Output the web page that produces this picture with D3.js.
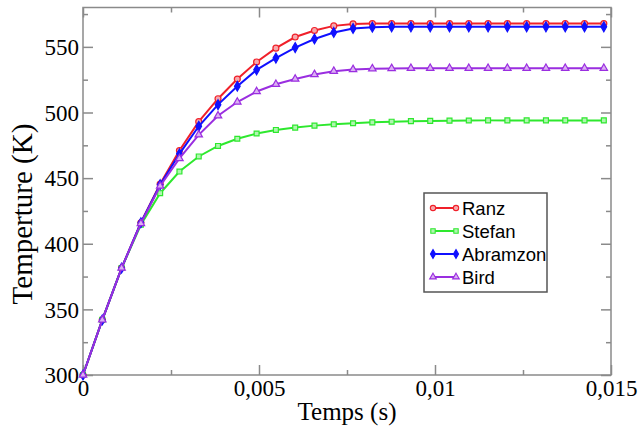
<!DOCTYPE html>
<html><head><meta charset="utf-8">
<script src="https://cdn.jsdelivr.net/npm/d3@7"></script>
<style>body{margin:0;background:#fff}svg{display:block}</style>
</head><body><svg id="c" width="639" height="432"></svg>
<script>
const times = [0, 0.000548, 0.001096, 0.001644, 0.002192, 0.00274, 0.003288, 0.003836, 0.004384, 0.004932, 0.00548, 0.006028, 0.006576, 0.007124, 0.007672, 0.00822, 0.008768, 0.009316, 0.009864, 0.010412, 0.01096, 0.011508, 0.012056, 0.012604, 0.013152, 0.0137, 0.014248, 0.014796];
const ranz     = [300, 342, 381.5, 416, 445.5, 471, 493, 510.5, 525.5, 538.5, 549, 557.5, 562.5, 566, 567.5, 567.8, 567.8, 567.8, 567.8, 567.8, 567.8, 567.8, 567.8, 567.8, 567.8, 567.8, 567.8, 567.8];
const stefan   = [300, 342, 381.5, 414.5, 438.5, 455, 466.5, 474.5, 480, 484, 486.7, 488.5, 490, 491, 491.8, 492.5, 493, 493.4, 493.6, 493.8, 493.9, 494, 494, 494, 494, 494, 494, 494];
const abramzon = [300, 342, 381.5, 416, 445, 468.5, 489.5, 506, 520, 532.5, 541.5, 549.5, 556, 561, 564, 565, 565.3, 565.3, 565.3, 565.3, 565.3, 565.3, 565.3, 565.3, 565.3, 565.3, 565.3, 565.3];
const bird     = [300, 342, 381.5, 415.5, 444, 465, 483, 497.5, 508, 516, 521.5, 525.5, 529, 531.5, 532.8, 533.4, 533.6, 533.7, 533.7, 533.7, 533.7, 533.7, 533.7, 533.7, 533.7, 533.7, 533.7, 533.7];
const seriesNames = ["Ranz", "Stefan", "Abramzon", "Bird"];
const xTickValues = [0, 0.005, 0.01, 0.015];
const xTickLabels = ["0", "0,005", "0,01", "0,015"];
const xMinorValues = [0.0025, 0.0075, 0.0125];
const yTickValues = [300, 350, 400, 450, 500, 550];
const yMinorValues = [325, 375, 425, 475, 525, 575];

const svg = d3.select("#c");
const L = 83, R = 611, T = 7.5, B = 375;
const x = d3.scaleLinear().domain([0, 0.015]).range([L, R]);
const y = d3.scaleLinear().domain([300, 580]).range([B, T]);
const axisCol = "#8a8a8a";

svg.append("rect").attr("x", L).attr("y", T).attr("width", R - L).attr("height", B - T)
  .attr("fill", "none").attr("stroke", axisCol).attr("stroke-width", 1.5);

function ticksGroup(axisFn, scale, vals, len, transform) {
  const g = svg.append("g").attr("transform", transform)
    .call(axisFn(scale).tickValues(vals).tickSize(len).tickFormat(""));
  g.select(".domain").remove();
  g.selectAll("line").attr("stroke", axisCol).attr("stroke-width", 1.5);
  return g;
}
ticksGroup(d3.axisTop, x, xTickValues, 10, `translate(0,${B})`);
ticksGroup(d3.axisTop, x, xMinorValues, 5, `translate(0,${B})`);
ticksGroup(d3.axisBottom, x, xTickValues, 10, `translate(0,${T})`);
ticksGroup(d3.axisBottom, x, xMinorValues, 5, `translate(0,${T})`);
ticksGroup(d3.axisRight, y, yTickValues, 10, `translate(${L},0)`);
ticksGroup(d3.axisRight, y, yMinorValues, 5, `translate(${L},0)`);
ticksGroup(d3.axisLeft, y, yTickValues, 10, `translate(${R},0)`);
ticksGroup(d3.axisLeft, y, yMinorValues, 5, `translate(${R},0)`);

const serif = "'Liberation Serif','Times New Roman',serif";
const xl = svg.append("g").attr("transform", `translate(0,${B})`)
  .call(d3.axisBottom(x).tickValues(xTickValues).tickSize(0).tickPadding(4)
    .tickFormat((d, i) => xTickLabels[i]));
xl.select(".domain").remove();
xl.selectAll("text").attr("font-family", serif).attr("font-size", 23).attr("fill", "#000").attr("dy", "0.72em");
const yl = svg.append("g").attr("transform", `translate(${L},0)`)
  .call(d3.axisLeft(y).tickValues(yTickValues).tickSize(0).tickPadding(4).tickFormat(d3.format("d")));
yl.select(".domain").remove();
yl.selectAll("text").attr("font-family", serif).attr("font-size", 23).attr("fill", "#000").attr("dy", "0.34em");

svg.append("text").attr("x", (L + R) / 2).attr("y", 420).attr("text-anchor", "middle")
  .attr("font-family", serif).attr("font-size", 25).text("Temps (s)");
svg.append("text").attr("transform", `translate(32,214) rotate(-90)`).attr("text-anchor", "middle")
  .attr("font-family", serif).attr("font-size", 29).text("Temperture (K)");

const series = [
  {name: seriesNames[0], vals: ranz, color: "#f0202a", fill: "#f7a8ac", sym: d3.symbolCircle, size: 28},
  {name: seriesNames[1], vals: stefan, color: "#2ee82e", fill: "#b0f5b0", sym: d3.symbolSquare, size: 24},
  {name: seriesNames[2], vals: abramzon, color: "#1010ff", fill: "#1010ff", sym: d3.symbolDiamond, size: 28},
  {name: seriesNames[3], vals: bird, color: "#9a2ee0", fill: "#dbb0f2", sym: d3.symbolTriangle, size: 24}
];
const line = d3.line().x(d => x(d[0])).y(d => y(d[1]));
series.forEach(s => {
  const pts = times.map((t, i) => [t, s.vals[i]]);
  svg.append("path").datum(pts).attr("d", line).attr("fill", "none")
    .attr("stroke", s.color).attr("stroke-width", 2);
  svg.append("g").selectAll("path").data(pts).join("path")
    .attr("transform", d => `translate(${x(d[0])},${y(d[1])})`)
    .attr("d", d3.symbol().type(s.sym).size(s.size))
    .attr("fill", s.fill).attr("stroke", s.color).attr("stroke-width", 1.2);
});

const lg = svg.append("g");
lg.append("rect").attr("x", 424).attr("y", 193).attr("width", 123).attr("height", 99)
  .attr("fill", "#fff").attr("stroke", "#555").attr("stroke-width", 1.5);
series.forEach((s, i) => {
  const yy = 208 + i * 23;
  lg.append("line").attr("x1", 433).attr("x2", 456).attr("y1", yy).attr("y2", yy)
    .attr("stroke", s.color).attr("stroke-width", 2);
  [433, 456].forEach(xx => lg.append("path").attr("transform", `translate(${xx},${yy})`)
    .attr("d", d3.symbol().type(s.sym).size(s.size * 0.8))
    .attr("fill", s.fill).attr("stroke", s.color).attr("stroke-width", 1.1));
  lg.append("text").attr("x", 462).attr("y", yy).attr("dy", "0.36em")
    .attr("font-family", "'Liberation Sans',Arial,sans-serif").attr("font-size", 18.5)
    .attr("fill", "#000").text(s.name);
});
</script></body></html>
